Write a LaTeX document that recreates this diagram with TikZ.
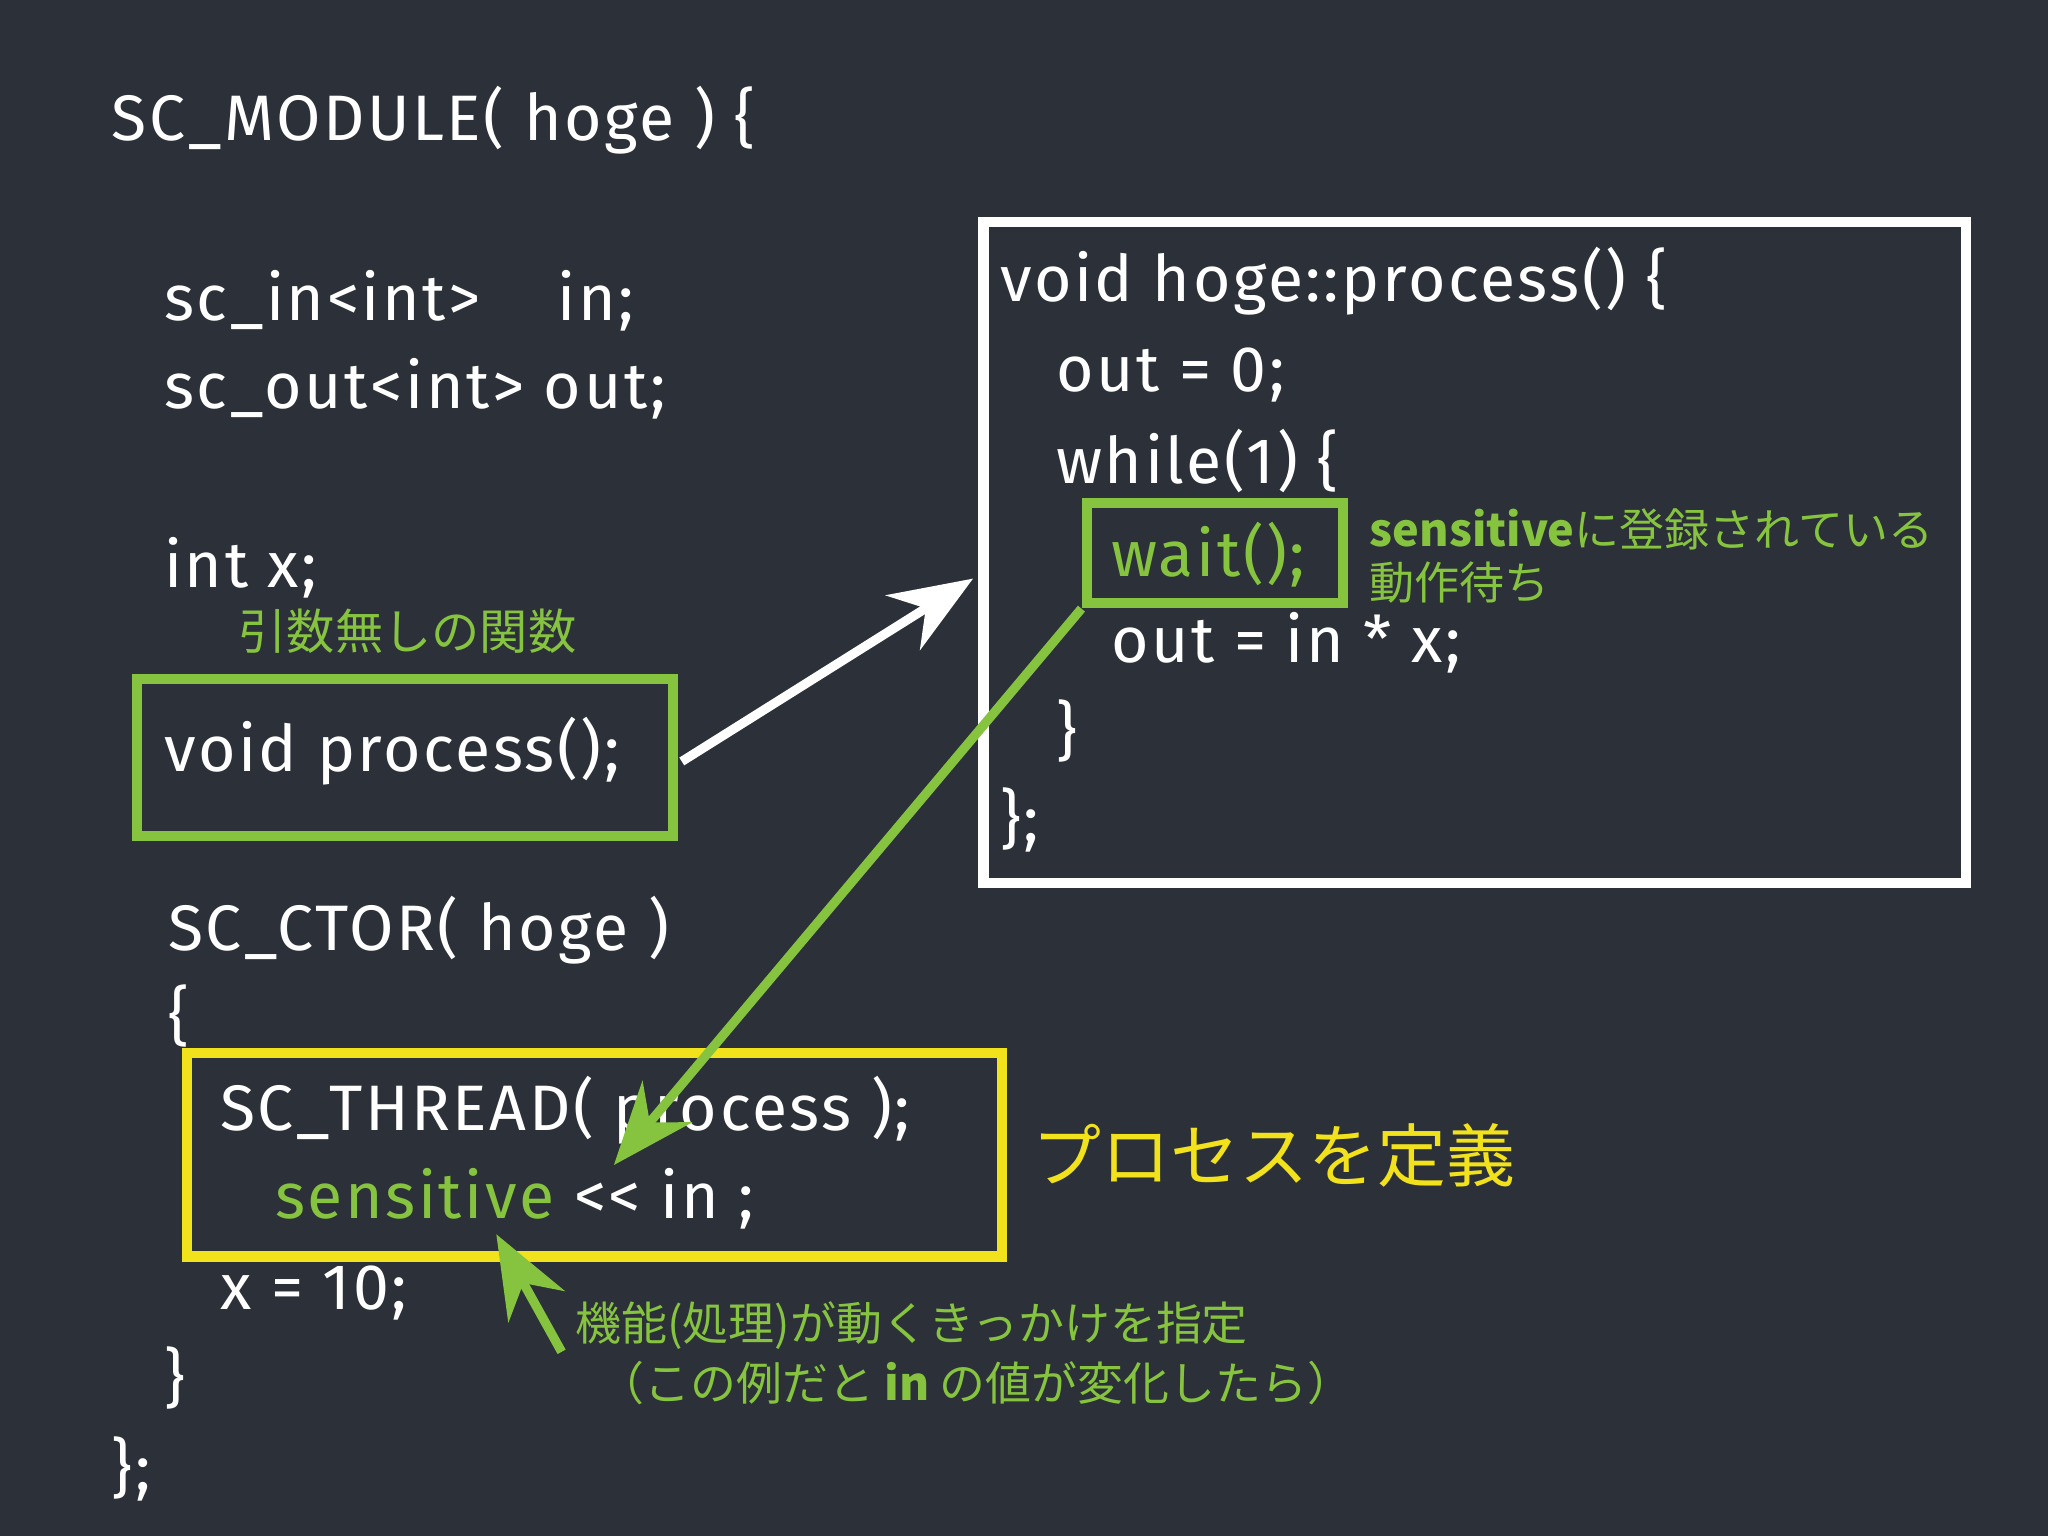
\documentclass[tikz,border=0pt]{standalone}
\usepackage{fontspec}
\setmainfont{Fira Sans}[LetterSpace=4]
\newfontfamily\cjk{Noto Sans CJK JP}
\usetikzlibrary{arrows.meta}
\definecolor{board}{HTML}{2C3038}
\definecolor{chalkgreen}{HTML}{86C440}
\definecolor{chalkyellow}{HTML}{F2E21C}
\tikzset{
 code/.style={anchor=west,text=white,font=\fontsize{14}{16}\selectfont,inner sep=0pt},
 note/.style={anchor=west,text=chalkgreen,font=\cjk\fontsize{9.5}{11}\selectfont,inner sep=0pt,align=left},
 gbox/.style={draw=chalkgreen,line width=2.2pt},
 ybox/.style={draw=chalkyellow,line width=2.2pt},
 wbox/.style={draw=white,line width=2.2pt},
 arr/.style={line width=2pt,-{Stealth[length=18pt,width=14pt]}},
}
\begin{document}
\begin{tikzpicture}[x=0.01cm,y=-0.01cm]
\fill[board] (0,0) rectangle (1568,1176);
\useasboundingbox (0,0) rectangle (1568,1176);
\node[code] (t1) at (85,92) {SC\_MODULE( hoge ) \{};
\node[code] (t2) at (125,230) {sc\_in<int>\hspace{1.2em}in;};
\node[code] (t3) at (125,298) {sc\_out<int> out;};
\node[code] (t4) at (125,435) {int x;};
\node[note,font=\cjk\fontsize{10.5}{12}\selectfont] (n1) at (182,483) {引数無しの関数};
\draw[gbox] (105,520) rectangle (515,640);
\node[code] (vp) at (125,575) {void process();};
\node[code] (t5) at (128,712) {SC\_CTOR( hoge )};
\node[code] (t6) at (128,778) {\{};
\draw[ybox] (143,806) rectangle (767,962);
\node[code] (t7) at (168,850) {SC\_THREAD( process );};
\node[code] (t8) at (210,918) {\textcolor{chalkgreen}{sensitive} {<}{<} in ;};
\node[code] (t9) at (168,990) {x = 10;};
\node[code] (t10) at (125,1055) {\}};
\node[code] (t11) at (85,1125) {\};};
\draw[wbox] (753,170) rectangle (1505,676);
\node[code] (p1) at (765,215) {void hoge::process() \{};
\node[code] (p2) at (808,287) {out = 0;};
\node[code] (p3) at (808,353) {while(1) \{};
\draw[gbox] (832,385) rectangle (1028,462);
\node[code,text=chalkgreen] (w) at (850,425) {wait();};
\node[code] (p4) at (850,492) {out = in * x;};
\node[code] (p5) at (808,560) {\}};
\node[code] (p6) at (765,628) {\};};
\node[note,align=left,font=\cjk\fontsize{9.8}{11.5}\selectfont] (n2) at (1048,426) {\textbf{sensitive}に登録されている\\動作待ち};
\node[note,text=chalkyellow,font=\cjk\fontsize{15}{17}\selectfont] (n3) at (790,885) {プロセスを定義};
\node[note,align=left,font=\cjk\fontsize{10}{12}\selectfont] (n4) at (440,1036) {機能(処理)が動くきっかけを指定\\[1pt]\hspace{0.5em}（この例だと \textbf{in} の値が変化したら）};
\coordinate (a1s) at (522,583); \coordinate (a1e) at (745,443);
\draw[arr,white] (a1s) -- (a1e);
\coordinate (a2s) at (828,466); \coordinate (a2e) at (470,892);
\draw[arr,chalkgreen] (a2s) -- (a2e);
\coordinate (a3s) at (430,1035); \coordinate (a3e) at (380,945);
\draw[arr,chalkgreen] (a3s) -- (a3e);
\end{tikzpicture}
\end{document}
